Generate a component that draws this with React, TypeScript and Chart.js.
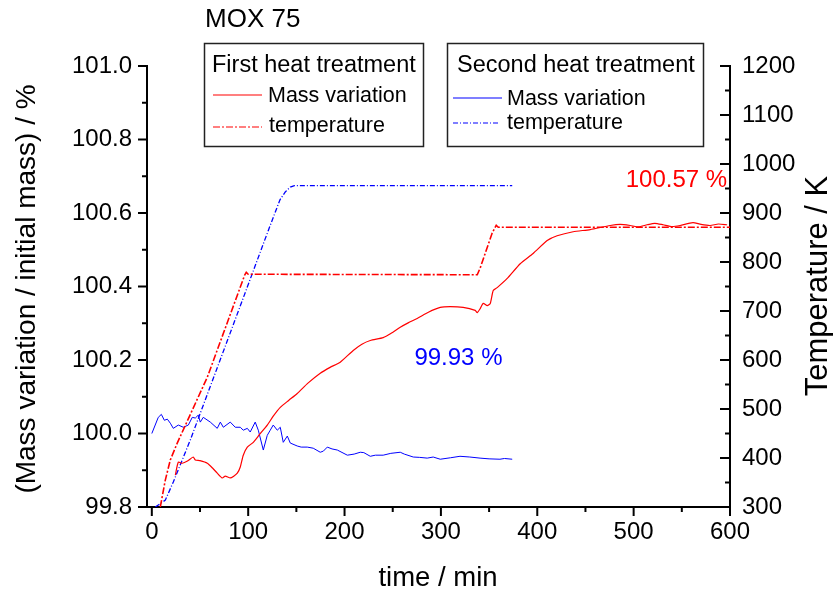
import React, { useEffect, useRef } from 'react';
import { Chart, registerables } from 'chart.js';

Chart.register(...registerables);

const FONT = "'Liberation Sans', Arial, Helvetica, sans-serif";

// Axis ticks
const X_TICKS = [0, 100, 200, 300, 400, 500, 600];
const X_MINOR = [50, 150, 250, 350, 450, 550];
const MASS_TICKS = [99.8, 100.0, 100.2, 100.4, 100.6, 100.8, 101.0];
const MASS_MINOR = [99.9, 100.1, 100.3, 100.5, 100.7, 100.9];
const TEMP_TICKS = [300, 400, 500, 600, 700, 800, 900, 1000, 1100, 1200];
const TEMP_MINOR = [350, 450, 550, 650, 750, 850, 950, 1050, 1150];

// Texts
const TITLE = 'MOX 75';
const X_TITLE = 'time / min';
const Y_LEFT_TITLE = '(Mass variation / initial mass) / %';
const Y_RIGHT_TITLE = 'Temperature / K';
const LEGEND_1_TITLE = 'First heat treatment';
const LEGEND_2_TITLE = 'Second heat treatment';
const ITEM_MASS = 'Mass variation';
const ITEM_TEMP = 'temperature';
const NOTE_1 = '100.57 %';
const NOTE_2 = '99.93 %';

// First heat treatment: mass variation (%)
const mass1Time = [24.4, 27.5, 31.6, 37, 43.0, 45.1, 50, 57.6, 63, 67.9, 73.1, 76.2, 81.4, 85, 88.7, 91.8, 94.9, 99.1, 105.3, 112, 119.8, 126, 133.3, 142, 150.9, 162, 174.8, 185, 195.5, 209.0, 218, 226.7, 240.1, 248, 257.8, 266, 275.4, 287, 299.3, 309.6, 323.1, 335.6, 337.7, 340.8, 343.9, 348.1, 351.2, 354.3, 358.4, 368.8, 382.3, 395.7, 410.3, 420.6, 437.2, 454.9, 475.6, 486, 496.4, 505, 514.0, 522, 530.6, 540, 548.2, 556, 561.7, 570, 579.3, 588, 597];
const mass1Value = [99.887, 99.922, 99.919, 99.925, 99.936, 99.928, 99.926, 99.919, 99.906, 99.892, 99.879, 99.884, 99.879, 99.884, 99.892, 99.909, 99.941, 99.963, 99.976, 99.998, 100.023, 100.047, 100.071, 100.090, 100.109, 100.137, 100.164, 100.180, 100.194, 100.226, 100.243, 100.253, 100.261, 100.272, 100.289, 100.301, 100.313, 100.330, 100.343, 100.345, 100.343, 100.335, 100.329, 100.340, 100.354, 100.348, 100.354, 100.389, 100.397, 100.422, 100.462, 100.490, 100.525, 100.538, 100.549, 100.555, 100.566, 100.569, 100.566, 100.562, 100.568, 100.572, 100.568, 100.563, 100.566, 100.571, 100.574, 100.569, 100.566, 100.570, 100.568];

// First heat treatment: temperature (K)
const temp1Time = [8.8, 14, 19.2, 26.5, 57.6, 96.5, 98, 100, 337.7, 340.8, 353.2, 357.4, 359.5, 600];
const temp1Value = [300, 355, 396, 431, 565, 774, 779, 775, 774, 788, 859, 875, 871, 871];

// Second heat treatment: mass variation (%)
const mass2Time = [0, 6.7, 9.9, 13.0, 16.1, 19.2, 22.3, 27.5, 32.7, 37.9, 42.0, 45.1, 48.2, 50.3, 53.4, 60.7, 67.9, 71.1, 74.2, 81.4, 86.6, 91.8, 94.9, 99.1, 102.1, 107.3, 110.5, 115.7, 119.8, 122.9, 126.0, 130.2, 133.3, 136.4, 140.6, 143.7, 150.9, 155, 161.3, 167.5, 174.8, 178, 182.1, 187, 192.5, 202.9, 210, 216.3, 220, 226.7, 232, 240.1, 248, 257.8, 262, 271.3, 278, 285.8, 292, 299.3, 310, 319.8, 330, 340.6, 350, 361.3, 366, 374.0];
const mass2Value = [100.000, 100.044, 100.052, 100.036, 100.039, 100.028, 100.014, 100.023, 100.017, 100.023, 100.044, 100.042, 100.050, 100.031, 100.044, 100.031, 100.014, 100.031, 100.017, 100.031, 100.017, 100.017, 100.009, 100.014, 100.004, 100.031, 100.009, 99.955, 99.995, 100.009, 100.023, 100.009, 100.017, 99.976, 99.993, 99.974, 99.966, 99.963, 99.963, 99.960, 99.949, 99.952, 99.963, 99.958, 99.955, 99.941, 99.944, 99.949, 99.948, 99.938, 99.941, 99.941, 99.946, 99.949, 99.944, 99.936, 99.935, 99.933, 99.936, 99.930, 99.934, 99.938, 99.936, 99.933, 99.931, 99.930, 99.932, 99.930];

// Second heat treatment: temperature (K)
const temp2Time = [3.6, 14, 22.3, 40, 94, 121, 133, 138.5, 143.7, 148, 374];
const temp2Value = [300, 314, 351, 437, 722, 865, 927, 943, 953, 956, 956];

const RED = '#ff0000';
const BLUE = '#0000ff';
const RED_DASH = [7, 2, 2, 2];
const BLUE_DASH = [5, 2, 1, 2];

const pts = (xs: number[], ys: number[]) => xs.map((x, i) => ({ x, y: ys[i] }));

const overlayPlugin = {
  id: 'overlay',
  afterDraw(chart: any) {
    const ctx = chart.ctx as CanvasRenderingContext2D;
    const { left, right, bottom } = chart.chartArea;
    const xs = chart.scales.x;
    const yl = chart.scales.yMass;
    const yr = chart.scales.yTemp;
    ctx.save();
    ctx.strokeStyle = '#000';
    ctx.lineWidth = 2;
    ctx.setLineDash([]);
    const line = (x1: number, y1: number, x2: number, y2: number) => {
      ctx.beginPath();
      ctx.moveTo(x1, y1);
      ctx.lineTo(x2, y2);
      ctx.stroke();
    };
    X_TICKS.forEach(v => { const p = xs.getPixelForValue(v); line(p, bottom, p, bottom + 9); });
    X_MINOR.forEach(v => { const p = xs.getPixelForValue(v); line(p, bottom, p, bottom + 5); });
    MASS_TICKS.forEach(v => { const p = yl.getPixelForValue(v); line(left - 9, p, left, p); });
    MASS_MINOR.forEach(v => { const p = yl.getPixelForValue(v); line(left - 5, p, left, p); });
    TEMP_TICKS.forEach(v => { const p = yr.getPixelForValue(v); line(right - 10, p, right, p); });
    TEMP_MINOR.forEach(v => { const p = yr.getPixelForValue(v); line(right - 5, p, right, p); });

    const text = (s: string, x: number, y: number, size: number, color = '#000', align: CanvasTextAlign = 'left', rot = 0) => {
      ctx.save();
      ctx.translate(x, y);
      if (rot) ctx.rotate(rot);
      ctx.font = `${size}px ${FONT}`;
      ctx.fillStyle = color;
      ctx.textAlign = align;
      ctx.textBaseline = 'middle';
      ctx.fillText(s, 0, 0);
      ctx.restore();
    };

    // titles
    text(TITLE, 205, 20, 26);
    text(X_TITLE, 438, 578, 27.5, '#000', 'center');
    text(Y_LEFT_TITLE, 27, 289, 28, '#000', 'center', -Math.PI / 2);
    text(Y_RIGHT_TITLE, 818, 286, 31, '#000', 'center', -Math.PI / 2);

    // legend boxes
    ctx.lineWidth = 1.5;
    ctx.strokeStyle = '#222';
    ctx.strokeRect(204.5, 43.5, 219, 103);
    ctx.strokeRect(447.5, 43.5, 256, 103);

    const sample = (x1: number, x2: number, y: number, color: string, dash: number[]) => {
      ctx.save();
      ctx.strokeStyle = color;
      ctx.lineWidth = 1.2;
      ctx.setLineDash(dash);
      line(x1, y, x2, y);
      ctx.restore();
    };
    text(LEGEND_1_TITLE, 212, 66, 23.5);
    sample(213, 262, 95, RED, []);
    text(ITEM_MASS, 268, 96, 21.5);
    sample(213, 262, 127, RED, RED_DASH);
    text(ITEM_TEMP, 269, 126, 21.5);

    text(LEGEND_2_TITLE, 457, 66, 23.5);
    sample(453, 502, 98, BLUE, []);
    text(ITEM_MASS, 507, 99, 21.5);
    sample(453, 500, 123, BLUE, BLUE_DASH);
    text(ITEM_TEMP, 507, 123, 21.5);

    // annotations (data coordinates)
    text(NOTE_1, xs.getPixelForValue(597), yl.getPixelForValue(100.688), 24, RED, 'right');
    text(NOTE_2, xs.getPixelForValue(272.5), yl.getPixelForValue(100.204), 24, BLUE, 'left');
    ctx.restore();
  },
};

export default function App() {
  const ref = useRef<HTMLCanvasElement | null>(null);
  useEffect(() => {
    if (!ref.current) return;
    const tickFont = { family: FONT, size: 24 };
    const chart = new Chart(ref.current, {
      type: 'scatter',
      data: {
        datasets: [
          { label: 'Mass variation 1', data: pts(mass1Time, mass1Value), yAxisID: 'yMass', borderColor: RED, borderWidth: 1.2, showLine: true, pointRadius: 0, tension: 0.2 },
          { label: 'temperature 1', data: pts(temp1Time, temp1Value), yAxisID: 'yTemp', borderColor: RED, borderWidth: 1.6, borderDash: RED_DASH, showLine: true, pointRadius: 0 },
          { label: 'Mass variation 2', data: pts(mass2Time, mass2Value), yAxisID: 'yMass', borderColor: BLUE, borderWidth: 1, showLine: true, pointRadius: 0 },
          { label: 'temperature 2', data: pts(temp2Time, temp2Value), yAxisID: 'yTemp', borderColor: BLUE, borderWidth: 1.3, borderDash: BLUE_DASH, showLine: true, pointRadius: 0 },
        ] as any,
      },
      options: {
        animation: false,
        responsive: false,
        devicePixelRatio: 1,
        layout: { padding: { top: 66, left: 0, right: 0, bottom: 0 } },
        plugins: { legend: { display: false }, tooltip: { enabled: false }, title: { display: false } },
        scales: {
          x: {
            type: 'linear', position: 'bottom', min: -5, max: 600,
            afterBuildTicks: (s: any) => { s.ticks = X_TICKS.map(v => ({ value: v })); },
            afterFit: (s: any) => { s.height = 88; },
            grid: { display: false, drawTicks: false },
            border: { display: true, color: '#000', width: 2 },
            ticks: { padding: 11, font: tickFont, color: '#000', autoSkip: false, maxRotation: 0, callback: (v: any) => String(v) },
          },
          yMass: {
            type: 'linear', position: 'left', min: 99.8, max: 101.0,
            afterBuildTicks: (s: any) => { s.ticks = MASS_TICKS.map(v => ({ value: v })); },
            afterFit: (s: any) => { s.width = 147; },
            grid: { display: false, drawTicks: false },
            border: { display: true, color: '#000', width: 2 },
            ticks: { padding: 15, font: tickFont, color: '#000', autoSkip: false, callback: (v: any) => Number(v).toFixed(1) },
          },
          yTemp: {
            type: 'linear', position: 'right', min: 300, max: 1200,
            afterBuildTicks: (s: any) => { s.ticks = TEMP_TICKS.map(v => ({ value: v })); },
            afterFit: (s: any) => { s.width = 103; },
            grid: { display: false, drawTicks: false },
            border: { display: true, color: '#000', width: 2 },
            ticks: { padding: 12, font: tickFont, color: '#000', autoSkip: false, callback: (v: any) => String(Math.round(Number(v))) },
          },
        },
      } as any,
      plugins: [overlayPlugin],
    });
    return () => chart.destroy();
  }, []);
  return (
    <div style={{ position: 'absolute', left: 0, top: 0, width: 833, height: 595, background: '#fff' }}>
      <canvas ref={ref} width={833} height={595} style={{ display: 'block' }} />
    </div>
  );
}
